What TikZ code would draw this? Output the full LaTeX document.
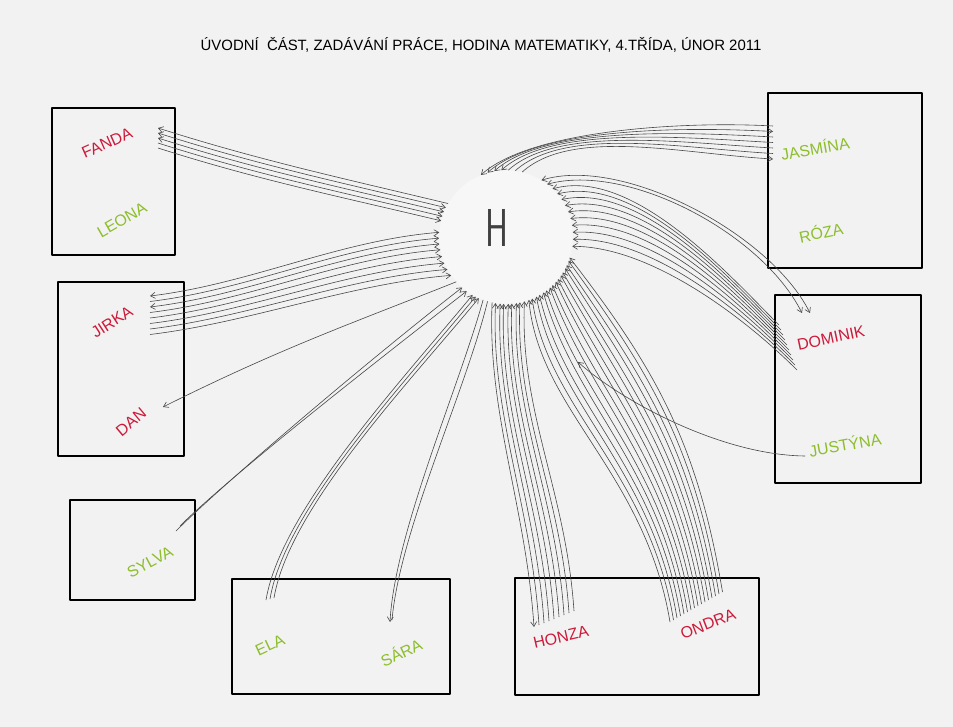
\documentclass[tikz,border=0pt]{standalone}
\usepackage{fontspec}
\setmainfont{Liberation Sans}
\usetikzlibrary{arrows.meta,calc}
\definecolor{bg}{HTML}{F2F2F2}
\definecolor{hubfill}{HTML}{F7F7F7}
\definecolor{nred}{HTML}{CC1A3A}
\definecolor{ngreen}{HTML}{8DBE2C}
\begin{document}
\begin{tikzpicture}[x=0.75pt,y=-0.75pt,
  tie/.style={draw=black!72, line width=0.45pt},
  >={Straight Barb[length=3.5pt,width=4.5pt]},
  fwd/.style={->}, bwd/.style={<-}, both/.style={<->}, plain/.style={},
  frame/.style={draw=black, line width=1.7pt, line join=round},
  rname/.style={text=nred, font=\fontsize{12}{12}\selectfont, inner sep=1pt},
  gname/.style={text=ngreen, font=\fontsize{12}{12}\selectfont, inner sep=1pt},
]
\fill[bg] (0,0) rectangle (953,727);
\useasboundingbox (0,0) rectangle (953,727);

% title
\node[font=\fontsize{11.2}{11.2}\selectfont] (title) at (481,45)
  {ÚVODNÍ\ \ ČÁST, ZADÁVÁNÍ PRÁCE, HODINA MATEMATIKY, 4.TŘÍDA, ÚNOR 2011};

% boxes
\draw[frame] (52,108) rectangle (175,255);
\draw[frame] (58,282) rectangle (184,456);
\draw[frame] (70,500) rectangle (195,600);
\draw[frame] (232,579) rectangle (450,694);
\draw[frame] (515,578) rectangle (759,695);
\draw[frame] (768,93) rectangle (922,268);
\draw[frame] (775,295) rectangle (921,483);

% hub
\node[circle, minimum size=100pt, inner sep=0pt, fill=hubfill] (hub) at (506,237) {};
\node[font=\fontsize{40}{40}\selectfont\sffamily, text=black!75] (hletter) at (497,228) {\scalebox{0.65}[1]{H}};

% names
\node[rname, rotate=24] (fanda) at (107,143) {FANDA};
\node[gname, rotate=30] (leona) at (122,220) {LEONA};
\node[rname, rotate=33] (jirka) at (112,322) {JIRKA};
\node[rname, rotate=40] (dan) at (131,422) {DAN};
\node[gname, rotate=28] (sylva) at (150,562) {SYLVA};
\node[gname, rotate=25] (ela) at (270,645) {ELA};
\node[gname, rotate=25] (sara) at (401,652) {SÁRA};
\node[rname, rotate=13] (honza) at (561,637) {HONZA};
\node[rname, rotate=21] (ondra) at (708,624) {ONDRA};
\node[gname, rotate=10] (jasmina) at (815,148) {JASMÍNA};
\node[gname, rotate=12] (roza) at (821,232) {RÓZA};
\node[rname, rotate=12] (dominik) at (831,338) {DOMINIK};
\node[gname, rotate=10] (justyna) at (845,444) {JUSTÝNA};

% connector end points
\coordinate (fa) at (158,128);
\coordinate (ji) at (150,296);
\coordinate (da) at (163,407);
\coordinate (sy) at (176,531);
\coordinate (el) at (266,600);
\coordinate (sa) at (390,622);
\coordinate (ho) at (534,627);
\coordinate (on) at (670,622);
\coordinate (do) at (797,370);
\coordinate (ja) at (773,126);
\coordinate (ju) at (805,456);
\coordinate (jt) at (578,362);

% FANDA
\foreach \i/\a/\ar in {0/150/bwd,1/154/both,2/158/both,3/162/fwd,4/166/fwd}
  \draw[tie,\ar] ($(fa)+(0,5*\i)$) .. controls +(100,32) and +(-100,-24) .. (hub.\a);
% JIRKA
\foreach \i/\a/\ar in {0/176/both,1/181/fwd,2/186/both,3/191/fwd,4/197/fwd,5/203/fwd,6/209/fwd,7/215/fwd}
  \draw[tie,\ar] ($(ji)+(0,5.5*\i)$) .. controls +(100,-12) and +(-100,8) .. (hub.\a);
% DAN
\draw[tie,->] (hub.222) .. controls +(-100,40) and +(120,-60) .. (da);
% SYLVA
\foreach \i in {0,1}
  \draw[tie,->] ($(sy)+(4*\i,-5*\i)$) .. controls +(50,-50) and +(-90,70) .. (hub.{229+5*\i});
% ELA
\foreach \i in {0,1,2}
  \draw[tie,->] ($(el)+(4*\i,-1*\i)$) .. controls +(15,-90) and +(-70,85) .. (hub.{240+3*\i});
% SARA
\draw[tie,->] (hub.250) .. controls +(-25,90) and +(5,-90) .. (sa);
\draw[tie] (hub.254) .. controls +(-22,90) and +(8,-90) .. ($(sa)+(2,-2)$);
% HONZA
\foreach \i/\ar in {0/fwd,1/bwd,2/bwd,3/bwd,4/bwd,5/bwd,6/bwd,7/bwd,8/bwd}
  \draw[tie,\ar] (hub.{258+3.5*\i}) .. controls +(-5,110) and +(-8,-120) .. ($(ho)+(5*\i,-2*\i)$);
% ONDRA
\foreach \i in {0,...,15}
  \draw[tie,<-] (hub.{290+3.5*\i}) .. controls +(10+5*\i,110) and +(-25,-150) .. ($(on)+(3.5*\i,-2*\i)$);
% DOMINIK
\foreach \i in {0,...,9}
  \draw[tie,<-] (hub.{-8+6*\i}) .. controls +(80,-2.5*\i) and +(-50,-50) .. ($(do)+(-2*\i,-5*\i)$);
\draw[tie,both] (hub.52) .. controls +(80,-22) and +(-40,-80) .. (802,313);
\draw[tie,both] (hub.58) .. controls +(80,-25) and +(-40,-80) .. (810,313);
% JASMINA
\foreach \i/\ar in {0/bwd,1/both,2/bwd,3/bwd,4/plain,5/plain,6/fwd}
  \draw[tie,\ar] (hub.{112-6*\i}) .. controls +(50,-45) and +(-90,-5) .. ($(ja)+(0,5.5*\i)$);
% JUSTYNA
\draw[tie,->] (ju) .. controls (720,455) and (620,400) .. (jt);
\end{tikzpicture}
\end{document}
